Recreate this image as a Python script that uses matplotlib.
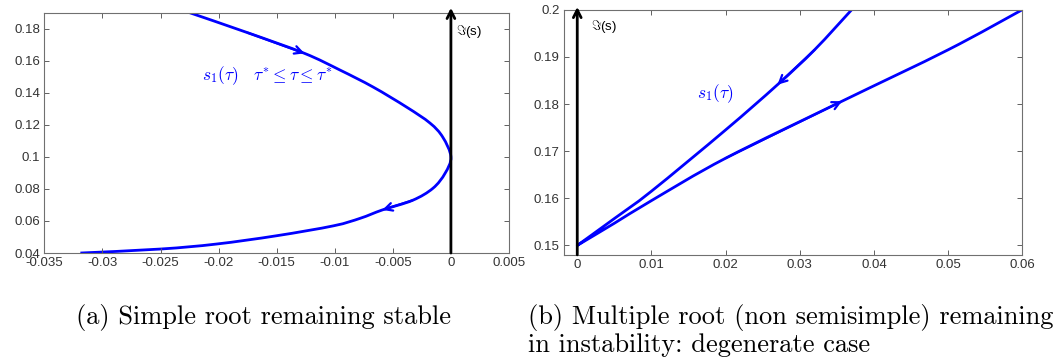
import numpy as np
import matplotlib
matplotlib.use('Agg')
import matplotlib.pyplot as plt
import matplotlib as mpl
from matplotlib.path import Path
from matplotlib.patches import PathPatch

mpl.rcParams['font.family'] = ['Liberation Sans', 'DejaVu Sans']
mpl.rcParams['mathtext.fontset'] = 'cm'

# (a) simple root, path from top to bottom
xa = [-0.0225, -0.0175, -0.0126, -0.00955, -0.0067, -0.0038, -0.0018, -0.0007, 0.0,
      -0.0005, -0.00155, -0.0033, -0.0059, -0.0078, -0.0101, -0.015, -0.0202, -0.025, -0.0319]
ya = [0.19, 0.1775, 0.1646, 0.1542, 0.1436, 0.131, 0.1211, 0.1123, 0.1,
      0.0898, 0.0804, 0.0729, 0.0669, 0.0617, 0.057, 0.0508, 0.0456, 0.0425, 0.04]
arrows_a = [2, 12]

# (b) multiple root, path: upper branch down to origin, then lower branch up
xb = [0.037, 0.032, 0.027, 0.02, 0.01, 0.005, 0.0, 0.005, 0.01, 0.02, 0.0357, 0.05, 0.06]
yb = [0.2, 0.1915, 0.1841, 0.1745, 0.1615, 0.1557, 0.15, 0.1547, 0.1595, 0.1685, 0.1806, 0.1915, 0.2]
arrows_b = [2, 10]
corner_b = 6  # the two branches meet here with a corner

BLUE = '#0000ff'
GREY = '#333333'


def style_axes(ax, xticks, yticks, xlim, ylim):
    ax.set_xlim(*xlim)
    ax.set_ylim(*ylim)
    ax.set_xticks(xticks)
    ax.set_yticks(yticks)
    ax.set_xticklabels([('%g' % t) for t in xticks])
    ax.set_yticklabels([('%g' % t) for t in yticks])
    ax.tick_params(direction='in', top=True, right=True, length=3.5, width=0.7,
                   colors='#606060', labelcolor=GREY, labelsize=9.5, pad=3)
    for s in ax.spines.values():
        s.set_color('#707070')
        s.set_linewidth(0.8)


def smooth_path(ax, x, y, corners=()):
    # bezier segments through the read points (catmull-rom tangents, display space)
    pts = ax.transData.transform(np.column_stack([x, y]))
    n = len(pts)
    verts = [pts[0]]
    codes = [Path.MOVETO]
    for i in range(n - 1):
        p0 = pts[i - 1] if (i > 0 and i not in corners) else pts[i]
        p3 = pts[i + 2] if (i + 2 < n and (i + 1) not in corners) else pts[i + 1]
        p1, p2 = pts[i], pts[i + 1]
        c1 = p1 + (p2 - p0) / 6.0
        c2 = p2 - (p3 - p1) / 6.0
        verts += [c1, c2, p2]
        codes += [Path.CURVE4] * 3
    verts = ax.transData.inverted().transform(np.array(verts))
    return Path(verts, codes)


def draw_path(ax, x, y, idx, corners=()):
    patch = PathPatch(smooth_path(ax, x, y, corners), facecolor='none', edgecolor=BLUE,
                      lw=2, capstyle='butt', joinstyle='round')
    ax.add_patch(patch)
    for i in idx:
        ax.annotate('', xy=(x[i], y[i]), xytext=(x[i - 1], y[i - 1]),
                    arrowprops=dict(arrowstyle='->,head_length=0.55,head_width=0.28',
                                    color=BLUE, lw=1.6, shrinkA=0, shrinkB=0))


def imag_axis(ax, ylim, over):
    ax.annotate('', xy=(0, ylim[1] + over), xytext=(0, ylim[0]),
                arrowprops=dict(arrowstyle='->,head_length=0.55,head_width=0.28',
                                color='black', lw=2, shrinkA=0, shrinkB=0),
                annotation_clip=False)


fig = plt.figure(figsize=(10.56, 3.62), dpi=100)

# left panel
ax1 = fig.add_axes([0.042, 0.301, 0.440, 0.664])
ylim1 = (0.04, 0.19)
style_axes(ax1, np.arange(-0.035, 0.0051, 0.005).round(3), np.arange(0.04, 0.181, 0.02).round(2),
           (-0.035, 0.005), ylim1)
imag_axis(ax1, ylim1, 0.003)
draw_path(ax1, xa, ya, arrows_a)
ax1.text(0.00045, 0.1785, r'$\Im$(s)', fontsize=9.5, va='center', ha='left', color='black')
ax1.text(-0.0214, 0.151, r'$s_1(\tau)\quad \tau^{*}\leq\tau\leq\tau^{*}$', fontsize=12.5,
         color=BLUE, va='center', ha='left')

# right panel
ax2 = fig.add_axes([0.534, 0.296, 0.434, 0.677])
ylim2 = (0.148, 0.2)
style_axes(ax2, np.arange(0, 0.061, 0.01).round(2), np.arange(0.15, 0.201, 0.01).round(2),
           (-0.0018, 0.06), ylim2)
imag_axis(ax2, ylim2, 0.0006)
draw_path(ax2, xb, yb, arrows_b, corners=(corner_b,))
ax2.text(0.0019, 0.1964, r'$\Im$(s)', fontsize=9.5, va='center', ha='left', color='black')
ax2.text(0.0161, 0.1822, r'$s_1(\tau)$', fontsize=12.5, color=BLUE, va='center', ha='left')

# captions
fig.text(0.25, 0.122, '(a) Simple root remaining stable', family='cmr10',
         fontsize=19, ha='center', va='center')
fig.text(0.5, 0.122, '(b) Multiple root (non semisimple) remaining', family='cmr10',
         fontsize=19, ha='left', va='center')
fig.text(0.5, 0.047, 'in instability: degenerate case', family='cmr10',
         fontsize=19, ha='left', va='center')

fig.savefig('out.png', dpi=100)
